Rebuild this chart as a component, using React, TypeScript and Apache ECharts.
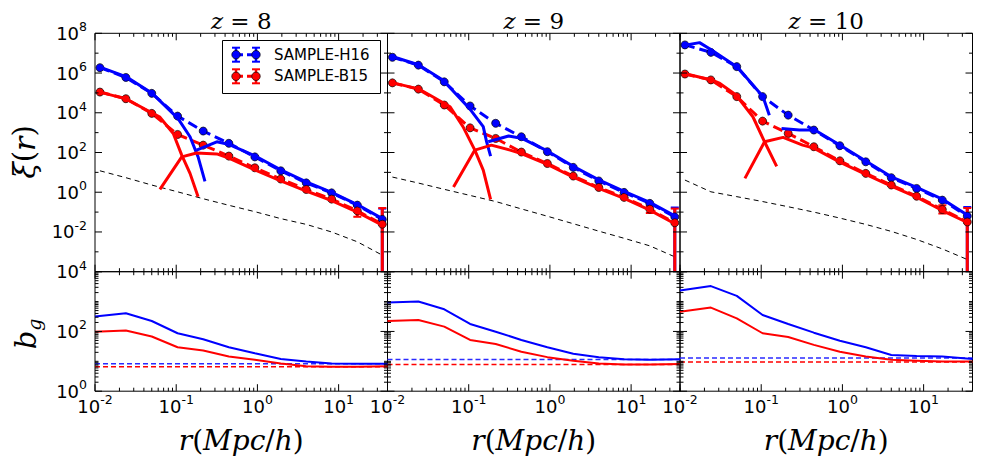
import React, { useEffect, useRef } from 'react';
import * as echarts from 'echarts';

// ---------------- data ----------------
const R_BINS = [0.0115, 0.024, 0.05, 0.104, 0.215, 0.445, 0.93, 1.94, 4.0, 8.2, 17, 34.5];
const BIAS_R = [0.01, 0.024, 0.05, 0.104, 0.215, 0.445, 0.93, 1.94, 4.0, 8.2, 17, 40];
const REDSHIFTS = ['8', '9', '10'];
const LEGEND_LABELS = ['SAMPLE-H16', 'SAMPLE-B15'];
const LS_R = [0.01, 40];
const X_TICK_LABELS = [0.01, 0.1, 1, 10];
const YT_TICK_LABELS = [1e-2, 1, 1e2, 1e4, 1e6, 1e8];
const YB_TICK_LABELS = [1, 1e2, 1e4];

// z = 8
const XI_H16_Z8 = [1.86e6, 6.0e5, 9.5e4, 6.8e3, 1.2e3, 290, 60, 12, 2.95, 0.93, 0.224, 0.043];
const XI_B15_Z8 = [1.1e5, 5.1e4, 9.3e3, 810, 235, 66, 17, 4.6, 1.38, 0.45, 0.115, 0.0245];
const XI_DM_Z8 = [12, 5.4, 2.3, 1.05, 0.47, 0.22, 0.105, 0.047, 0.024, 0.01, 3.2e-3, 6.8e-4];
const H16_1H_R_Z8 = [0.0115, 0.024, 0.05, 0.105, 0.148, 0.186, 0.226];
const H16_1H_Z8 = [2.0e6, 6.6e5, 1.0e5, 5.2e3, 620, 60, 3.5];
const H16_2H_R_Z8 = [0.178, 0.316, 0.437, 0.93, 1.94, 4.0, 8.2, 17, 34.5];
const H16_2H_Z8 = [132, 347, 263, 68, 13.5, 3.3, 0.98, 0.24, 0.047];
const B15_1H_R_Z8 = [0.0115, 0.024, 0.05, 0.063, 0.092, 0.117, 0.148, 0.186];
const B15_1H_Z8 = [1.1e5, 5.0e4, 1.0e4, 6.0e3, 910, 74, 8.9, 0.59];
const B15_2H_R_Z8 = [0.063, 0.117, 0.178, 0.316, 0.445, 0.93, 1.94, 4.0, 8.2, 17, 34.5];
const B15_2H_Z8 = [1.38, 60, 95, 85, 52, 13.2, 3.7, 1.15, 0.38, 0.1, 0.022];
const ERR_H16_Z8 = [[34.5, 1e-6, 0.15]];
const ERR_B15_Z8 = [[17, 0.058, 0.22], [34.5, 1e-6, 0.16]];
const BIAS_H16_Z8 = [316, 407, 224, 87, 55, 29.5, 18.6, 12, 9.8, 8.5, 8.3, 8.3];
const BIAS_B15_Z8 = [98, 107, 68, 29.5, 23, 14.5, 11.2, 8.5, 6.9, 6.6, 6.6, 6.9];
const LS_H16_Z8 = 8.3;
const LS_B15_Z8 = 6.6;

// z = 9
const XI_H16_Z9 = [6.2e6, 2.5e6, 3.6e5, 2.2e4, 2.95e3, 620, 110, 17.8, 3.7, 0.98, 0.275, 0.0575];
const XI_B15_Z9 = [3.2e5, 1.55e5, 2.45e4, 1.74e3, 510, 105, 28, 6.5, 1.74, 0.55, 0.141, 0.029];
const XI_DM_Z9 = [5.8, 2.9, 1.4, 0.69, 0.34, 0.145, 0.062, 0.026, 0.011, 4.8e-3, 2.0e-3, 5.6e-4];
const H16_1H_R_Z9 = [0.0117, 0.024, 0.048, 0.102, 0.151, 0.166, 0.186];
const H16_1H_Z9 = [6.6e6, 2.6e6, 4.5e5, 1.66e4, 2.0e3, 350, 66];
const H16_2H_R_Z9 = [0.174, 0.31, 0.445, 0.93, 1.94, 4.0, 8.2, 17, 34.5];
const H16_2H_Z9 = [347, 676, 525, 120, 20, 4.2, 1.1, 0.31, 0.065];
const B15_1H_R_Z9 = [0.0117, 0.024, 0.033, 0.059, 0.085, 0.119, 0.151, 0.186];
const B15_1H_Z9 = [3.2e5, 1.6e5, 7.8e4, 2.0e4, 2.0e3, 132, 12.9, 0.44];
const B15_2H_R_Z9 = [0.065, 0.119, 0.19, 0.324, 0.445, 0.93, 1.94, 4.0, 8.2, 17, 34.5];
const B15_2H_Z9 = [1.86, 132, 234, 132, 89, 25, 5.8, 1.55, 0.49, 0.126, 0.026];
const ERR_H16_Z9 = [[34.5, 1e-6, 0.17]];
const ERR_B15_Z9 = [[17, 0.09, 0.2], [34.5, 1e-6, 0.15]];
const BIAS_H16_Z9 = [933, 1000, 550, 178, 98, 52, 29.5, 17.8, 13.8, 11.7, 11.2, 11.7];
const BIAS_B15_Z9 = [224, 240, 145, 52, 38, 21, 13.8, 10.5, 8.5, 7.9, 7.9, 8.1];
const LS_H16_Z9 = 11.5;
const LS_B15_Z9 = 7.9;

// z = 10
const XI_H16_Z10 = [2.6e7, 1.1e7, 2.1e6, 6.5e4, 7.6e3, 1.35e3, 220, 34, 5.4, 1.55, 0.4, 0.063];
const XI_B15_Z10 = [8.9e5, 4.5e5, 6.5e4, 3.8e3, 910, 195, 38, 8.9, 2.3, 0.63, 0.135, 0.032];
const XI_DM_Z10 = [4.1, 1.05, 0.6, 0.34, 0.186, 0.1, 0.05, 0.024, 0.0107, 4.2e-3, 1.4e-3, 4.1e-4];
const H16_1H_R_Z10 = [0.012, 0.0174, 0.0245, 0.051, 0.079, 0.105, 0.126];
const H16_1H_Z10 = [2.6e7, 3.4e7, 1.45e7, 1.95e6, 2.5e5, 6.5e4, 7.6e3];
const H16_2H_R_Z10 = [0.178, 0.295, 0.457, 0.93, 1.94, 4.0, 8.2, 17, 34.5];
const H16_2H_Z10 = [1.62e3, 1.35e3, 1.35e3, 240, 37, 6.0, 1.74, 0.45, 0.072];
const B15_1H_R_Z10 = [0.012, 0.0245, 0.031, 0.049, 0.079, 0.11, 0.155];
const B15_1H_Z10 = [8.9e5, 4.5e5, 3.0e5, 7.8e4, 6.3e3, 347, 20];
const B15_2H_R_Z10 = [0.063, 0.11, 0.186, 0.324, 0.445, 0.93, 1.94, 4.0, 8.2, 17, 34.5];
const B15_2H_Z10 = [5.0, 347, 575, 234, 166, 33, 7.9, 2.04, 0.56, 0.12, 0.03];
const ERR_H16_Z10 = [[34.5, 1e-6, 0.18]];
const ERR_B15_Z10 = [[17, 0.085, 0.22], [34.5, 1e-6, 0.16]];
const BIAS_H16_Z10 = [2340, 3300, 1550, 355, 178, 91, 49, 29.5, 16.2, 15.1, 14.5, 12];
const BIAS_B15_Z10 = [457, 630, 275, 87, 65, 35.5, 21, 14.5, 11.2, 10.5, 9.8, 9.8];
const LS_H16_Z10 = 12.9;
const LS_B15_Z10 = 9.5;

const PANELS = [
  { xiH: XI_H16_Z8, xiB: XI_B15_Z8, dm: XI_DM_Z8, h1r: H16_1H_R_Z8, h1: H16_1H_Z8, h2r: H16_2H_R_Z8, h2: H16_2H_Z8,
    b1r: B15_1H_R_Z8, b1: B15_1H_Z8, b2r: B15_2H_R_Z8, b2: B15_2H_Z8, errH: ERR_H16_Z8, errB: ERR_B15_Z8,
    biasH: BIAS_H16_Z8, biasB: BIAS_B15_Z8, lsH: LS_H16_Z8, lsB: LS_B15_Z8 },
  { xiH: XI_H16_Z9, xiB: XI_B15_Z9, dm: XI_DM_Z9, h1r: H16_1H_R_Z9, h1: H16_1H_Z9, h2r: H16_2H_R_Z9, h2: H16_2H_Z9,
    b1r: B15_1H_R_Z9, b1: B15_1H_Z9, b2r: B15_2H_R_Z9, b2: B15_2H_Z9, errH: ERR_H16_Z9, errB: ERR_B15_Z9,
    biasH: BIAS_H16_Z9, biasB: BIAS_B15_Z9, lsH: LS_H16_Z9, lsB: LS_B15_Z9 },
  { xiH: XI_H16_Z10, xiB: XI_B15_Z10, dm: XI_DM_Z10, h1r: H16_1H_R_Z10, h1: H16_1H_Z10, h2r: H16_2H_R_Z10, h2: H16_2H_Z10,
    b1r: B15_1H_R_Z10, b1: B15_1H_Z10, b2r: B15_2H_R_Z10, b2: B15_2H_Z10, errH: ERR_H16_Z10, errB: ERR_B15_Z10,
    biasH: BIAS_H16_Z10, biasB: BIAS_B15_Z10, lsH: LS_H16_Z10, lsB: LS_B15_Z10 },
];

// ---------------- layout / style ----------------
const BLUE = '#0000ff';
const RED = '#ff0000';
const SANS = 'DejaVu Sans';
const SERIF = 'DejaVu Serif';
const GRID_LEFT = 95;
const COL_W = 292.5;
const TOP_Y = 33.3;
const TOP_H = 238.4;
const BOT_Y = 271.7;
const BOT_H = 119.5;
const XR = [0.01, 40];
const YR_TOP = [1e-4, 1e8];
const YR_BOT = [1, 1e4];

const TICK_RICH = {
  b: { fontFamily: SANS, fontSize: 18, lineHeight: 26, color: '#000' },
  s: { fontFamily: SANS, fontSize: 12.5, lineHeight: 14, verticalAlign: 'top', color: '#000' },
};

function supLabel(v: number) {
  const e = Math.round(Math.log10(v));
  return `{b|10}{s|${e}}`;
}

function decadeSubs(lo: number, hi: number) {
  const out: number[] = [];
  for (let e = lo; e <= hi; e++) for (let m = 2; m <= 9; m++) out.push(m * Math.pow(10, e));
  return out;
}

const X_MAJOR = [0.01, 0.1, 1, 10];
const X_MINOR = decadeSubs(-2, 1).filter((v) => v <= 40);
const YT_MAJOR = [1e-4, 1e-2, 1, 1e2, 1e4, 1e6, 1e8];
const YT_MINOR = [1e-3, 1e-1, 10, 1e3, 1e5, 1e7];
const YB_MAJOR = [1, 100, 1e4];
const YB_MINOR = [10, 1000].concat(decadeSubs(0, 3));

function pairs(xs: number[], ys: number[]) {
  return xs.map((x, i) => [x, ys[i]]);
}

function lineSeries(gi: number, data: any[], color: string, width: number, dash: any, z: number, dots = false) {
  return {
    type: 'line', xAxisIndex: gi, yAxisIndex: gi, data, z, silent: true,
    showSymbol: dots, symbol: dots ? 'circle' : 'none', symbolSize: 8,
    itemStyle: { color, borderColor: '#000', borderWidth: 0.7 },
    lineStyle: { color, width, type: dash },
    emphasis: { disabled: true },
  };
}

function tickSeries(gi: number, yr: number[], yMajor: number[], yMinor: number[]) {
  const data: any[] = [];
  X_MAJOR.forEach((v) => data.push([v, yr[0], 0, 7]));
  X_MINOR.forEach((v) => data.push([v, yr[0], 0, 3.5]));
  yMajor.forEach((v) => data.push([XR[0], v, 1, 7]));
  yMinor.forEach((v) => data.push([XR[0], v, 1, 3.5]));
  return {
    type: 'custom', xAxisIndex: gi, yAxisIndex: gi, data, z: 20, silent: true,
    renderItem: (params: any, api: any) => {
      const kind = api.value(2);
      const len = api.value(3);
      const st = { stroke: '#000', lineWidth: 1 };
      if (kind === 0) {
        const x = api.value(0);
        const pb = api.coord([x, yr[0]]);
        const pt = api.coord([x, yr[1]]);
        return {
          type: 'group', children: [
            { type: 'line', shape: { x1: pb[0], y1: pb[1], x2: pb[0], y2: pb[1] - len }, style: st },
            { type: 'line', shape: { x1: pt[0], y1: pt[1], x2: pt[0], y2: pt[1] + len }, style: st },
          ],
        };
      }
      const y = api.value(1);
      const pl = api.coord([XR[0], y]);
      const pr = api.coord([XR[1], y]);
      return {
        type: 'group', children: [
          { type: 'line', shape: { x1: pl[0], y1: pl[1], x2: pl[0] + len, y2: pl[1] }, style: st },
          { type: 'line', shape: { x1: pr[0], y1: pr[1], x2: pr[0] - len, y2: pr[1] }, style: st },
        ],
      };
    },
  };
}

function errSeries(gi: number, data: any[], color: string, z: number) {
  return {
    type: 'custom', xAxisIndex: gi, yAxisIndex: gi, data, z, silent: true,
    renderItem: (params: any, api: any) => {
      const x = api.value(0);
      const lo = api.value(1);
      const hi = api.value(2);
      const p1 = api.coord([x, Math.max(lo, YR_TOP[0])]);
      const p2 = api.coord([x, hi]);
      const children: any[] = [
        { type: 'line', shape: { x1: p1[0], y1: p1[1], x2: p2[0], y2: p2[1] }, style: { stroke: color, lineWidth: 3 } },
        { type: 'line', shape: { x1: p2[0] - 4, y1: p2[1], x2: p2[0] + 4, y2: p2[1] }, style: { stroke: color, lineWidth: 2 } },
      ];
      if (lo >= YR_TOP[0]) {
        children.push({ type: 'line', shape: { x1: p1[0] - 4, y1: p1[1], x2: p1[0] + 4, y2: p1[1] }, style: { stroke: color, lineWidth: 2 } });
      }
      return { type: 'group', children };
    },
  };
}

function buildOption() {
  const grid: any[] = [];
  const xAxis: any[] = [];
  const yAxis: any[] = [];
  const series: any[] = [];
  const graphic: any[] = [];

  for (let row = 0; row < 2; row++) {
    for (let c = 0; c < 3; c++) {
      const gi = row * 3 + c;
      const yr = row === 0 ? YR_TOP : YR_BOT;
      grid.push({
        left: GRID_LEFT + c * COL_W, top: row === 0 ? TOP_Y : BOT_Y, width: COL_W,
        height: row === 0 ? TOP_H : BOT_H, show: true, borderColor: '#000', borderWidth: 1,
        backgroundColor: 'transparent',
      });
      xAxis.push({
        type: 'log', logBase: 10, gridIndex: gi, min: XR[0], max: XR[1],
        axisLine: { show: false }, axisTick: { show: false }, splitLine: { show: false },
        axisLabel: {
          show: row === 1, margin: 2, customValues: X_TICK_LABELS,
          formatter: (v: number) => supLabel(v), rich: TICK_RICH,
        },
      });
      yAxis.push({
        type: 'log', logBase: 10, gridIndex: gi, min: yr[0], max: yr[1],
        axisLine: { show: false }, axisTick: { show: false }, splitLine: { show: false },
        axisLabel: {
          show: c === 0, margin: 8, customValues: row === 0 ? YT_TICK_LABELS : YB_TICK_LABELS,
          formatter: (v: number) => supLabel(v), rich: TICK_RICH,
        },
      });
      series.push(tickSeries(gi, yr, row === 0 ? YT_MAJOR : YB_MAJOR, row === 0 ? YT_MINOR : YB_MINOR));
    }
  }

  PANELS.forEach((p, c) => {
    const gt = c;
    const gb = 3 + c;
    series.push(lineSeries(gt, pairs(R_BINS, p.dm), '#000', 1, [5, 4], 2));
    series.push(errSeries(gt, p.errH, BLUE, 3));
    series.push(errSeries(gt, p.errB, RED, 3));
    series.push(lineSeries(gt, pairs(R_BINS, p.xiH), BLUE, 3, [10, 5], 4, true));
    series.push(lineSeries(gt, pairs(R_BINS, p.xiB), RED, 3, [10, 5], 4, true));
    series.push(lineSeries(gt, pairs(p.h1r, p.h1), BLUE, 3, 'solid', 5));
    series.push(lineSeries(gt, pairs(p.h2r, p.h2), BLUE, 3, 'solid', 5));
    series.push(lineSeries(gt, pairs(p.b1r, p.b1), RED, 3, 'solid', 5));
    series.push(lineSeries(gt, pairs(p.b2r, p.b2), RED, 3, 'solid', 5));

    series.push(lineSeries(gb, pairs(LS_R, [p.lsH, p.lsH]), '#2a2aff', 1.5, [5, 3], 3));
    series.push(lineSeries(gb, pairs(LS_R, [p.lsB, p.lsB]), RED, 1.5, [5, 3], 3));
    series.push(lineSeries(gb, pairs(BIAS_R, p.biasH), BLUE, 2, 'solid', 4));
    series.push(lineSeries(gb, pairs(BIAS_R, p.biasB), RED, 2, 'solid', 4));

    const cx = GRID_LEFT + c * COL_W + COL_W / 2;
    graphic.push({
      type: 'text', x: cx, y: 21, z: 50,
      style: {
        text: `{i|z}{n| = ${REDSHIFTS[c]}}`, align: 'center', verticalAlign: 'middle',
        rich: {
          i: { fontFamily: SERIF, fontStyle: 'italic', fontSize: 23, fill: '#000' },
          n: { fontFamily: SERIF, fontSize: 23, fill: '#000' },
        },
      },
    });
    graphic.push({
      type: 'text', x: cx, y: 440, z: 50,
      style: {
        text: '{i|r}{n|(}{i|Mpc}{n|/}{i|h}{n|)}', align: 'center', verticalAlign: 'middle',
        rich: {
          i: { fontFamily: SERIF, fontStyle: 'italic', fontSize: 28, fill: '#000' },
          n: { fontFamily: SERIF, fontSize: 28, fill: '#000' },
        },
      },
    });
  });

  graphic.push({
    type: 'text', x: 24, y: 152, rotation: Math.PI / 2, z: 50,
    style: {
      text: '{i|ξ}{n|(}{i|r}{n|)}', align: 'center', verticalAlign: 'middle',
      rich: {
        i: { fontFamily: SERIF, fontStyle: 'italic', fontSize: 30, fill: '#000' },
        n: { fontFamily: SERIF, fontSize: 29, fill: '#000' },
      },
    },
  });
  graphic.push({
    type: 'text', x: 26, y: 334, rotation: Math.PI / 2, z: 50,
    style: {
      text: '{i|b}{s|g}', align: 'center', verticalAlign: 'middle',
      rich: {
        i: { fontFamily: SERIF, fontStyle: 'italic', fontSize: 29, lineHeight: 34, fill: '#000' },
        s: { fontFamily: SERIF, fontStyle: 'italic', fontSize: 19, lineHeight: 20, verticalAlign: 'bottom', fill: '#000' },
      },
    },
  });

  // legend
  const legendChildren: any[] = [
    { type: 'rect', shape: { x: 222.5, y: 40.5, width: 158, height: 53 }, style: { fill: '#fff', stroke: '#000', lineWidth: 1 } },
  ];
  [BLUE, RED].forEach((col, i) => {
    const y = 54.7 + i * 21.6;
    legendChildren.push({ type: 'line', shape: { x1: 236, y1: y, x2: 256, y2: y }, style: { stroke: col, lineWidth: 3, lineDash: [7, 4] } });
    [236, 256].forEach((x) => {
      legendChildren.push({ type: 'line', shape: { x1: x, y1: y - 7, x2: x, y2: y + 7 }, style: { stroke: col, lineWidth: 2.5 } });
      legendChildren.push({ type: 'line', shape: { x1: x - 4, y1: y - 7, x2: x + 4, y2: y - 7 }, style: { stroke: col, lineWidth: 2 } });
      legendChildren.push({ type: 'line', shape: { x1: x - 4, y1: y + 7, x2: x + 4, y2: y + 7 }, style: { stroke: col, lineWidth: 2 } });
      legendChildren.push({ type: 'circle', shape: { cx: x, cy: y, r: 4.2 }, style: { fill: col, stroke: '#000', lineWidth: 0.7 } });
    });
    legendChildren.push({
      type: 'text', x: 274, y,
      style: { text: LEGEND_LABELS[i], fontFamily: SANS, fontSize: 15, fill: '#000', align: 'left', verticalAlign: 'middle' },
    });
  });
  graphic.push({ type: 'group', z: 60, children: legendChildren });

  return { animation: false, backgroundColor: '#fff', grid, xAxis, yAxis, series, graphic };
}

export default function App() {
  const ref = useRef<HTMLDivElement>(null);
  useEffect(() => {
    const chart = echarts.init(ref.current as HTMLDivElement, null, { renderer: 'svg' });
    chart.setOption(buildOption() as any);
    return () => chart.dispose();
  }, []);
  return (
    <div
      ref={ref}
      style={{ position: 'fixed', left: 0, top: 0, width: 981, height: 464, background: '#fff' }}
    />
  );
}
